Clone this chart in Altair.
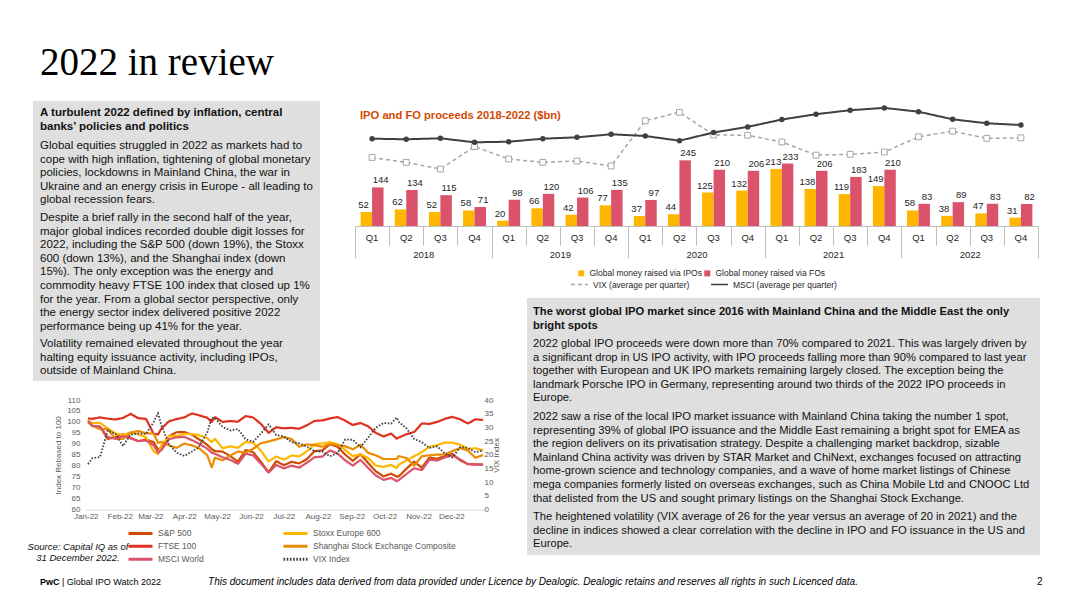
import altair as alt
import pandas as pd

# ---------------- IPO / FO proceeds ($bn) ----------------
quarters = ["2018 Q1", "2018 Q2", "2018 Q3", "2018 Q4",
            "2019 Q1", "2019 Q2", "2019 Q3", "2019 Q4",
            "2020 Q1", "2020 Q2", "2020 Q3", "2020 Q4",
            "2021 Q1", "2021 Q2", "2021 Q3", "2021 Q4",
            "2022 Q1", "2022 Q2", "2022 Q3", "2022 Q4"]
years = ["2018", "2019", "2020", "2021", "2022"]
ipo_bn = [52, 62, 52, 58, 20, 66, 42, 77, 37, 44, 125, 132, 213, 138, 119, 149, 58, 38, 47, 31]
fo_bn = [144, 134, 115, 71, 98, 120, 106, 135, 97, 245, 210, 206, 233, 206, 183, 210, 83, 89, 83, 82]
vix_quarter_avg = [17.0, 15.1, 12.5, 21.2, 16.4, 15.1, 15.6, 13.7, 31.2, 34.5, 25.7, 25.6,
                   23.0, 17.9, 18.2, 19.1, 25.0, 27.2, 24.4, 24.6]
msci_quarter_avg = [2100, 2081, 2113, 1984, 2003, 2100, 2145, 2242, 2187, 2035, 2300, 2481,
                    2719, 2890, 3019, 3094, 2971, 2726, 2597, 2542]

# ---------------- 2022 indices (rebased to 100) and VIX ----------------
dates = ["2022-01-03", "2022-01-07", "2022-01-14", "2022-01-21", "2022-01-28", "2022-02-04",
         "2022-02-11", "2022-02-18", "2022-02-25", "2022-03-04", "2022-03-08", "2022-03-11",
         "2022-03-18", "2022-03-25", "2022-04-01", "2022-04-08", "2022-04-14", "2022-04-22",
         "2022-04-26", "2022-04-29", "2022-05-06", "2022-05-13", "2022-05-20", "2022-05-27",
         "2022-06-03", "2022-06-10", "2022-06-17", "2022-06-24", "2022-07-01", "2022-07-08",
         "2022-07-15", "2022-07-22", "2022-07-29", "2022-08-05", "2022-08-12", "2022-08-19",
         "2022-08-26", "2022-09-02", "2022-09-09", "2022-09-16", "2022-09-23", "2022-09-30",
         "2022-10-07", "2022-10-12", "2022-10-14", "2022-10-21", "2022-10-28", "2022-11-04",
         "2022-11-11", "2022-11-18", "2022-11-25", "2022-12-02", "2022-12-09", "2022-12-16",
         "2022-12-23", "2022-12-30"]
sp500 = [100.6, 98.1, 97.8, 92.3, 93.0, 94.4, 92.7, 91.2, 92.0, 90.8, 87.5, 88.2,
         93.6, 95.3, 95.4, 94.2, 92.2, 89.6, 87.6, 86.7, 86.5, 84.4, 81.9, 87.2,
         86.2, 81.8, 77.1, 82.1, 80.3, 81.8, 81.1, 83.1, 86.7, 87.0, 89.8, 88.7,
         85.1, 82.3, 85.3, 81.3, 77.5, 75.2, 76.4, 75.1, 75.2, 78.7, 81.9, 79.1,
         83.8, 83.2, 84.5, 85.4, 82.5, 80.8, 80.7, 80.6]
stoxx600 = [100.5, 99.5, 99.6, 97.1, 94.8, 94.0, 95.3, 94.3, 93.1, 86.6, 85.3, 89.3,
            93.7, 93.5, 94.6, 94.4, 94.1, 92.6, 90.8, 92.3, 88.0, 88.9, 88.2, 90.9,
            90.4, 86.9, 82.0, 84.2, 82.8, 84.7, 84.3, 86.6, 89.9, 90.2, 90.8, 89.9,
            87.2, 84.4, 85.3, 83.5, 80.1, 79.5, 80.4, 79.0, 80.5, 82.5, 84.4, 86.2,
            88.7, 89.4, 90.6, 90.6, 89.6, 87.7, 88.0, 87.1]
ftse100 = [101.6, 101.4, 102.1, 101.5, 101.1, 101.8, 103.7, 101.7, 101.4, 94.6, 94.3, 96.9,
           100.3, 101.3, 102.1, 103.9, 103.1, 101.9, 100.0, 102.2, 100.0, 100.4, 100.1, 102.7,
           102.0, 99.1, 95.0, 97.6, 97.1, 97.3, 96.9, 98.5, 100.5, 100.7, 101.6, 102.2,
           100.6, 98.6, 99.5, 98.0, 95.0, 93.4, 94.7, 92.4, 92.9, 94.4, 95.4, 99.3,
           99.1, 100.0, 101.4, 102.3, 101.2, 99.3, 101.2, 100.9]
shanghai = [99.8, 98.3, 96.7, 96.8, 92.3, 92.3, 95.1, 95.9, 94.8, 94.7, 90.5, 90.9,
            89.3, 88.2, 90.2, 89.3, 88.2, 84.8, 79.3, 83.7, 82.5, 84.7, 86.5, 86.0,
            87.8, 90.3, 91.1, 92.0, 93.1, 92.2, 88.7, 89.8, 89.4, 88.7, 90.0, 89.5,
            88.9, 87.5, 89.6, 85.9, 84.8, 83.1, 83.1, 83.1, 84.4, 83.5, 80.1, 84.4,
            84.8, 85.1, 85.2, 86.7, 88.1, 87.0, 83.7, 84.9]
msci_world = [100.5, 98.2, 97.9, 93.1, 92.4, 93.5, 92.5, 91.3, 91.5, 89.4, 86.0, 87.1,
              92.1, 93.0, 93.2, 91.7, 90.2, 87.8, 86.0, 85.5, 83.9, 82.7, 80.9, 85.5,
              84.7, 81.0, 76.9, 80.4, 78.8, 80.1, 79.2, 81.4, 83.9, 84.2, 87.0, 85.6,
              82.5, 80.1, 82.7, 79.0, 75.6, 73.6, 74.5, 73.0, 73.5, 76.3, 78.9, 78.0,
              82.8, 82.4, 83.8, 84.8, 82.9, 80.8, 80.5, 80.5]
vix_index = [16.6, 18.8, 19.2, 28.9, 27.7, 23.2, 27.4, 27.8, 27.6, 32.0, 35.1, 30.8,
             23.9, 20.8, 19.6, 21.2, 22.7, 28.2, 33.5, 33.4, 30.2, 28.9, 29.4, 25.7,
             24.8, 27.8, 31.1, 27.2, 26.7, 24.6, 24.2, 23.0, 21.3, 21.2, 19.5, 20.6,
             25.6, 25.5, 22.8, 26.3, 29.9, 31.6, 31.4, 33.6, 32.0, 29.7, 25.8, 24.6,
             22.5, 23.1, 20.5, 19.1, 22.8, 22.6, 20.9, 21.7]

# ---------------- text ----------------
title_text = ["2022 in review"]
left_head = ["A turbulent 2022 defined by inflation, central", "banks\u2019 policies and politics"]
left_p1 = ["Global equities struggled in 2022 as markets had to",
           "cope with high inflation, tightening of global monetary",
           "policies, lockdowns in Mainland China, the war in",
           "Ukraine and an energy crisis in Europe - all leading to",
           "global recession fears."]
left_p2 = ["Despite a brief rally in the second half of the year,",
           "major global indices recorded double digit losses for",
           "2022, including the S&P 500 (down 19%), the Stoxx",
           "600 (down 13%), and the Shanghai index (down",
           "15%). The only exception was the energy and",
           "commodity heavy FTSE 100 index that closed up 1%",
           "for the year. From a global sector perspective, only",
           "the energy sector index delivered positive 2022",
           "performance being up 41% for the year."]
left_p3 = ["Volatility remained elevated throughout the year",
           "halting equity issuance activity, including IPOs,",
           "outside of Mainland China."]
right_head = ["The worst global IPO market since 2016 with Mainland China and the Middle East the only",
              "bright spots"]
right_p1 = ["2022 global IPO proceeds were down more than 70% compared to 2021. This was largely driven by",
            "a significant drop in US IPO activity, with IPO proceeds falling more than 90% compared to last year",
            "together with European and UK IPO markets remaining largely closed. The exception being the",
            "landmark Porsche IPO in Germany, representing around two thirds of the 2022 IPO proceeds in",
            "Europe."]
right_p2 = ["2022 saw a rise of the local IPO market issuance with Mainland China taking the number 1 spot,",
            "representing 39% of global IPO issuance and the Middle East remaining a bright spot for EMEA as",
            "the region delivers on its privatisation strategy. Despite a challenging market backdrop, sizable",
            "Mainland China activity was driven by STAR Market and ChiNext, exchanges focused on attracting",
            "home-grown science and technology companies, and a wave of home market listings of Chinese",
            "mega companies formerly listed on overseas exchanges, such as China Mobile Ltd and CNOOC Ltd",
            "that delisted from the US and sought primary listings on the Shanghai Stock Exchange."]
right_p3 = ["The heightened volatility (VIX average of 26 for the year versus an average of 20 in 2021) and the",
            "decline in indices showed a clear correlation with the decline in IPO and FO issuance in the US and",
            "Europe."]
bar_title = ["IPO and FO proceeds 2018-2022 ($bn)"]
source_text = ["Source: Capital IQ as of", "31 December 2022."]
footer_brand = ["PwC"]
footer_name = ["| Global IPO Watch 2022"]
footer_note = ["This document includes data derived from data provided under Licence by Dealogic. "
               "Dealogic retains and reserves all rights in such Licenced data."]
page_no = ["2"]

IPO_L = "Global money raised via IPOs"
FO_L = "Global money raised via FOs"
VIXQ_L = "VIX (average per quarter)"
MSCIQ_L = "MSCI (average per quarter)"
# legend order (two columns, filled column by column)
LC_SERIES = ["S&P 500", "FTSE 100", "MSCI World",
             "Stoxx Europe 600", "Shanghai Stock Exchange Composite", "VIX Index"]

# ---------------- frames ----------------
bars_df = pd.DataFrame({"quarter": quarters * 2,
                        "type": [IPO_L] * len(quarters) + [FO_L] * len(quarters),
                        "value": ipo_bn + fo_bn})
vixq_df = pd.DataFrame({"quarter": quarters, "series": VIXQ_L, "v": vix_quarter_avg})
msciq_df = pd.DataFrame({"quarter": quarters, "series": MSCIQ_L, "v": msci_quarter_avg})
year_df = pd.DataFrame({"year": years})
idx_parts = []
for name, vals in [("S&P 500", sp500), ("Stoxx Europe 600", stoxx600), ("FTSE 100", ftse100),
                   ("Shanghai Stock Exchange Composite", shanghai), ("MSCI World", msci_world)]:
    idx_parts.append(pd.DataFrame({"date": dates, "series": name, "value": vals}))
idx_df = pd.concat(idx_parts, ignore_index=True)
vix_df = pd.DataFrame({"date": dates, "series": "VIX Index", "value": vix_index})

SANS = "Liberation Sans, Arial, sans-serif"
NARROW = "Liberation Sans Narrow, Arial Narrow, Liberation Sans, Arial, sans-serif"
SERIF = "Liberation Serif, Georgia, serif"
H = 592


def text_block(lines, x, y, size=11.5, weight="normal", lh=13.6, color="#111111",
               style="normal", align="left", font=SANS):
    return alt.Chart().mark_text(
        text=lines, align=align, baseline="alphabetic", fontSize=size, fontWeight=weight,
        lineHeight=lh, color=color, fontStyle=style, font=font
    ).encode(x=alt.value(x), y=alt.value(y))


def box(x0, x1, y0, y1):
    return alt.Chart().mark_rect(color="#dfdfdf").encode(
        x=alt.value(x0), x2=alt.value(x1), y=alt.value(y0), y2=alt.value(y1))


# ---------------- bar chart ----------------
QS = alt.Scale(domain=quarters, range=[347, 1030], paddingInner=0, paddingOuter=0)
YS = alt.Scale(domain=years, range=[347, 1030], paddingInner=0, paddingOuter=0)
XO = alt.Scale(domain=[IPO_L, FO_L], paddingInner=0, paddingOuter=0.49)
YB = alt.Scale(domain=[0, 250], range=[218, 151], nice=False)
AX_OFF = 218 - H

bar_leg = alt.Legend(orient="none", legendX=569, legendY=261, direction="horizontal",
                     symbolType="square", symbolSize=36, labelFontSize=8.5, labelFont=SANS,
                     labelColor="#262626", columnPadding=1, title=None, labelLimit=300)
bars = alt.Chart(bars_df).mark_bar().encode(
    x=alt.X("quarter:N", scale=QS,
            axis=alt.Axis(orient="bottom", offset=AX_OFF, labelExpr="slice(datum.label, 5)",
                          ticks=False, domain=True, domainColor="#bfbfbf", labelPadding=6,
                          labelFontSize=9.5, labelFont=NARROW, labelColor="#262626",
                          labelAngle=0, title=None, grid=False)),
    xOffset=alt.XOffset("type:N", scale=XO),
    y=alt.Y("value:Q", scale=YB, axis=None),
    color=alt.Color("type:N", scale=alt.Scale(domain=[IPO_L, FO_L], range=["#ffb600", "#db536a"]),
                    legend=bar_leg),
)
bar_labels = alt.Chart(bars_df).mark_text(
    baseline="alphabetic", dy=-4, fontSize=9.5, font=NARROW, color="#262626"
).encode(
    x=alt.X("quarter:N", scale=QS,
            axis=alt.Axis(orient="bottom", offset=AX_OFF, labels=False, domain=False, ticks=True,
                          tickBand="extent", tickSize=19, tickColor="#bfbfbf", title=None,
                          grid=False)),
    xOffset=alt.XOffset("type:N", scale=XO),
    y=alt.Y("value:Q", scale=YB, axis=None),
    text=alt.Text("value:Q"),
)
year_ticks = alt.Chart(year_df).mark_point(opacity=0).encode(
    x=alt.X("year:N", scale=YS,
            axis=alt.Axis(orient="bottom", offset=AX_OFF, labels=False, domain=False, ticks=True,
                          tickBand="extent", tickSize=32, tickColor="#bfbfbf", title=None,
                          grid=False)),
    y=alt.value(0),
)
year_labels = alt.Chart(year_df).mark_point(opacity=0).encode(
    x=alt.X("year:N", scale=YS,
            axis=alt.Axis(orient="bottom", offset=AX_OFF, labels=True, domain=False, ticks=False,
                          labelPadding=23, labelFontSize=9.5, labelFont=NARROW,
                          labelColor="#262626", labelAngle=0, title=None, grid=False)),
    y=alt.value(0),
)

ql_leg = alt.Legend(orient="none", legendX=562, legendY=267, direction="horizontal",
                    symbolType="stroke", symbolSize=289, symbolStrokeWidth=1.5,
                    labelFontSize=8.5, labelFont=SANS, labelColor="#262626",
                    columnPadding=18, title=None, labelLimit=300)
ql_color = alt.Scale(domain=[VIXQ_L, MSCIQ_L], range=["#a6a6a6", "#404040"])
ql_dash = alt.Scale(domain=[VIXQ_L, MSCIQ_L], range=[[4, 3], [1, 0]])
VIXQ_Y = alt.Scale(domain=[0, 40], range=[193.3, 90.1], nice=False, zero=False)
MSCIQ_Y = alt.Scale(domain=[1500, 3500], range=[149.3, 87.3], nice=False, zero=False)

vixq_line = alt.Chart(vixq_df).mark_line(strokeWidth=1.5).encode(
    x=alt.X("quarter:N", scale=QS, axis=None),
    y=alt.Y("v:Q", scale=VIXQ_Y, axis=None),
    color=alt.Color("series:N", scale=ql_color, legend=ql_leg),
    strokeDash=alt.StrokeDash("series:N", scale=ql_dash, legend=ql_leg),
)
vixq_pts = alt.Chart(vixq_df).mark_point(shape="square", filled=True, fill="white",
                                         stroke="#a6a6a6", strokeWidth=1, size=34,
                                         opacity=1).encode(
    x=alt.X("quarter:N", scale=QS, axis=None),
    y=alt.Y("v:Q", scale=VIXQ_Y, axis=None),
)
msciq_line = alt.Chart(msciq_df).mark_line(strokeWidth=2).encode(
    x=alt.X("quarter:N", scale=QS, axis=None),
    y=alt.Y("v:Q", scale=MSCIQ_Y, axis=None),
    color=alt.Color("series:N", scale=ql_color, legend=ql_leg),
    strokeDash=alt.StrokeDash("series:N", scale=ql_dash, legend=ql_leg),
)
msciq_pts = alt.Chart(msciq_df).mark_circle(color="#404040", size=30, opacity=1).encode(
    x=alt.X("quarter:N", scale=QS, axis=None),
    y=alt.Y("v:Q", scale=MSCIQ_Y, axis=None),
)
quarter_lines = alt.layer(vixq_line, vixq_pts, msciq_line, msciq_pts).resolve_scale(
    x="independent", y="independent")

# ---------------- line chart ----------------
XD = alt.Scale(type="utc",
               domain=[alt.DateTime(year=2022, month=1, date=1, utc=True),
                       alt.DateTime(year=2022, month=12, date=31, utc=True)],
               range=[77.8, 476.2])
month_ticks = [alt.DateTime(year=2022, month=m, date=1, utc=True) for m in range(1, 13)]
lc_leg = alt.Legend(orient="none", legendX=126, legendY=518.7, columns=2, columnPadding=73,
                    rowPadding=0, symbolType="M-2.4,0H2.4", symbolSize=100, symbolStrokeWidth=3,
                    labelOffset=11, labelFontSize=8.5, labelFont=SANS, labelColor="#595959",
                    title=None, labelLimit=300)
lc_color = alt.Scale(domain=LC_SERIES,
                     range=["#d04a02", "#e0301e", "#db536a", "#ffb600", "#eb8c00", "#404040"])
lc_dash = alt.Scale(domain=LC_SERIES, range=[[1, 0], [1, 0], [1, 0], [1, 0], [1, 0], [1.6, 1.6]])

idx_lines = alt.Chart(idx_df).mark_line(strokeWidth=2.2, strokeJoin="round").encode(
    x=alt.X("date:T", scale=XD,
            axis=alt.Axis(orient="bottom", offset=501.7 - H, values=month_ticks, format="%b-%y",
                          labelFontSize=8, labelFont=SANS, labelColor="#595959", ticks=False,
                          domainColor="#d9d9d9", labelPadding=3, labelFlush=False,
                          labelOverlap=False, grid=False, title=None)),
    y=alt.Y("value:Q", scale=alt.Scale(domain=[60, 110], range=[501.7, 392], nice=False, zero=False),
            axis=alt.Axis(orient="left", offset=-75, values=list(range(60, 111, 5)),
                          labelFontSize=8, labelFont=SANS, labelColor="#595959", ticks=False,
                          domain=False, grid=False, labelPadding=3,
                          title="Index Rebased to 100", titleFontSize=8, titleFont=SANS,
                          titleFontWeight="normal", titleColor="#595959", titlePadding=4)),
    color=alt.Color("series:N", scale=lc_color, legend=lc_leg),
    strokeDash=alt.StrokeDash("series:N", scale=lc_dash, legend=lc_leg),
)
vix_line = alt.Chart(vix_df).mark_line(strokeWidth=1.8).encode(
    x=alt.X("date:T", scale=XD, axis=None),
    y=alt.Y("value:Q", scale=alt.Scale(domain=[0, 40], range=[501.7, 392], nice=False, zero=False),
            axis=alt.Axis(orient="right", offset=473 - 1064, values=list(range(0, 41, 5)),
                          labelFontSize=8, labelFont=SANS, labelColor="#595959", ticks=False,
                          domain=False, grid=False, labelPadding=3,
                          title="VIX Index", titleFontSize=8, titleFont=SANS, titleAngle=270,
                          titleFontWeight="normal", titleColor="#595959", titlePadding=8)),
    color=alt.Color("series:N", scale=lc_color, legend=lc_leg),
    strokeDash=alt.StrokeDash("series:N", scale=lc_dash, legend=lc_leg),
)
line_chart = alt.layer(idx_lines, vix_line).resolve_scale(x="independent", y="independent")

# ---------------- page ----------------
RS = 11.2
layers = [
    box(25, 312, 93, 373),
    box(519, 1032, 290, 547),
    text_block(title_text, 32, 67, size=39, font=SERIF, color="#000000"),
    text_block(left_head, 32, 108, weight="bold", lh=14),
    text_block(left_p1, 32, 141),
    text_block(left_p2, 32, 213),
    text_block(left_p3, 32, 339),
    text_block(right_head, 525, 307, size=RS, weight="bold", lh=14),
    text_block(right_p1, 525, 339, size=RS),
    text_block(right_p2, 525, 412, size=RS),
    text_block(right_p3, 525, 512, size=RS),
    text_block(bar_title, 352, 111, size=11.2, weight="bold", color="#d04a02"),
    text_block(source_text, 70, 541.5, size=9.5, lh=11, style="italic", align="center"),
    text_block(footer_brand, 32, 577, size=9, weight="bold", color="#000000"),
    text_block(footer_name, 54, 577, size=9, color="#000000"),
    text_block(footer_note, 525, 576.5, size=10, style="italic", align="center", color="#000000"),
    text_block(page_no, 1029, 577, size=10, color="#000000"),
    bars, bar_labels, year_ticks, year_labels, quarter_lines,
    line_chart,
]

chart = alt.layer(*layers, data=pd.DataFrame({"k": [0]})).resolve_scale(
    x="independent", y="independent", color="independent", strokeDash="independent",
    xOffset="independent"
).properties(
    width=1064, height=H, autosize=alt.AutoSizeParams(type="none"), padding=0
).configure_view(stroke=None)

chart.save("out.html", embed_options={"renderer": "svg", "actions": False})
